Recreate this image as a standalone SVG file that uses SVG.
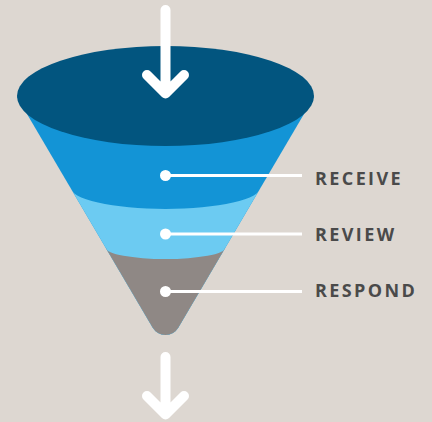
<svg xmlns="http://www.w3.org/2000/svg" width="432" height="422" viewBox="0 0 432 422">
<style>
.lbl{font-family:"Open Sans","Liberation Sans",sans-serif;font-weight:700;font-size:18px;fill:#4a4a4a;letter-spacing:2.4px}
.lead{stroke:#fff;stroke-width:3;fill:none}
.dot{fill:#fff}
.arr{stroke:#fff;stroke-width:10;fill:none;stroke-linecap:round;stroke-linejoin:round}
</style>
<defs>
<clipPath id="cone"><path d="M17,97 L152.6,327.6 A15,15 0 0 0 178.4,327.6 L314,97 Z"/></clipPath>
</defs>
<rect width="432" height="422" fill="#ddd7d1"/>
<g id="funnel">
<g clip-path="url(#cone)">
<rect x="0" y="90" width="432" height="260" fill="#1394d6"/>
<path d="M0,187 L70,187 A95.5,22 0 0 0 261,187 L432,187 L432,422 L0,422 Z" fill="#6ccbf2"/>
<path d="M0,248 L106,248 A59.5,11 0 0 0 225,248 L432,248 L432,422 L0,422 Z" fill="#8f8885"/>
</g>
<ellipse cx="165.5" cy="96" rx="148.5" ry="50" fill="#02557f"/>
</g>
<g id="connectors">
<path class="arr" d="M165.5,10 V92 M147,75 L165.5,93.5 L184,75"/>
<path class="arr" d="M165.5,357 V413 M147,396 L165.5,414.5 L184,396"/>
<line class="lead" x1="165.5" y1="175.5" x2="302" y2="175.5"/>
<line class="lead" x1="165.5" y1="234" x2="302" y2="234"/>
<line class="lead" x1="165.5" y1="291.5" x2="302" y2="291.5"/>
</g>
<g id="receive"><circle class="dot" cx="165.5" cy="175.5" r="5.5"/><text class="lbl" x="315" y="184.5">RECEIVE</text></g>
<g id="review"><circle class="dot" cx="165.5" cy="234" r="5.5"/><text class="lbl" x="315" y="240.5">REVIEW</text></g>
<g id="respond"><circle class="dot" cx="165.5" cy="291.5" r="5.5"/><text class="lbl" x="315" y="297">RESPOND</text></g>
</svg>
